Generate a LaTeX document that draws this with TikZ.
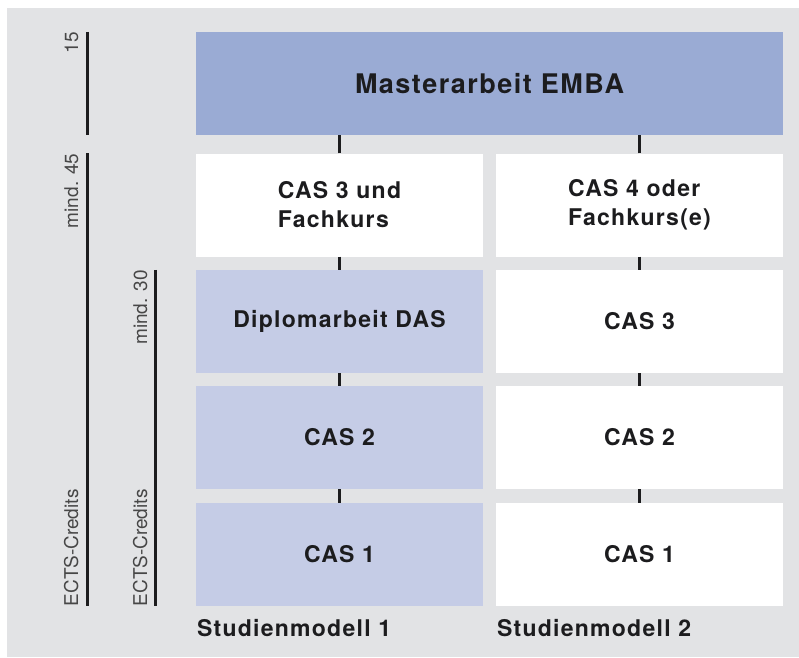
\documentclass[tikz,border=0pt]{standalone}
\usepackage{fontspec}
\usetikzlibrary{calc}
\newfontfamily\hfont[LetterSpace=5.5]{TeX Gyre Heros}
\newfontfamily\lfont{TeX Gyre Heros}
\definecolor{bggray}{HTML}{E2E3E5}
\definecolor{emba}{HTML}{9AABD4}
\definecolor{das}{HTML}{C5CCE6}
\definecolor{ink}{HTML}{1C1C1E}
\tikzstyle{modul}=[rectangle,fill=white,minimum width=287pt,minimum height=103pt,inner sep=0pt,text=ink,align=left,font=\hfont\bfseries\fontsize{23}{29}\selectfont]
\tikzstyle{tick}=[line width=3pt,ink]
\tikzstyle{axis}=[line width=3pt,ink]
\tikzstyle{credits}=[rotate=90,inner sep=0pt,text=black!72,font=\lfont\fontsize{19}{22}\selectfont]

\begin{document}
\begin{tikzpicture}[x=1pt,y=-1pt]
\useasboundingbox (0, 0) rectangle (799, 657);
\fill[bggray] (7, 8) rectangle (799, 657);

\node[modul, fill=emba, minimum width=587pt, font=\hfont\bfseries\fontsize{27}{30}\selectfont] at (489.5, 83.5) (master) {Masterarbeit EMBA};
\node[modul] at (339.5, 205) (casf) {CAS 3 und\\Fachkurs};
\node[modul] at (639.5, 205) (casfe) {CAS 4 oder\\Fachkurs(e)};
\node[modul, fill=das] at (339.5, 321.5) (dipl) {Diplomarbeit DAS};
\node[modul] at (639.5, 321.5) (cas3) {CAS 3};
\node[modul, fill=das] at (339.5, 437.5) (casa2) {CAS 2};
\node[modul] at (639.5, 437.5) (casb2) {CAS 2};
\node[modul, fill=das] at (339.5, 554.5) (casa1) {CAS 1};
\node[modul] at (639.5, 554.5) (casb1) {CAS 1};

\node[modul, fill=none, minimum width=0pt, minimum height=0pt, anchor=base west] at ($(casa1.south west)+(1, 30)$) (sm1) {Studienmodell 1};
\node[modul, fill=none, minimum width=0pt, minimum height=0pt, anchor=base west] at ($(casb1.south west)+(1, 30)$) (sm2) {Studienmodell 2};

\draw[tick] (casf.north) -- (casf.north |- master.south);
\draw[tick] (casfe.north) -- (casfe.north |- master.south);
\draw[tick] (casf.south) -- (dipl.north);
\draw[tick] (casfe.south) -- (cas3.north);
\draw[tick] (dipl.south) -- (casa2.north);
\draw[tick] (cas3.south) -- (casb2.north);
\draw[tick] (casa2.south) -- (casa1.north);
\draw[tick] (casb2.south) -- (casb1.north);

\coordinate (ax1) at (87, 0);
\coordinate (ax2) at (155, 0);
\draw[axis] (master.north -| ax1) -- (master.south -| ax1);
\draw[axis] (casf.north -| ax1) -- (casa1.south -| ax1);
\draw[axis] (dipl.north -| ax2) -- (casa1.south -| ax2);

\node[credits, anchor=base east] at ($(master.north -| ax1)+(-9, 0)$) (c15) {15};
\node[credits, anchor=base east] at ($(casf.north -| ax1)+(-9, 0)$) (c45) {mind. 45};
\node[credits, anchor=base west] at ($(casa1.south -| ax1)+(-9, 0)$) (ects1) {ECTS-Credits};
\node[credits, anchor=base east] at ($(dipl.north -| ax2)+(-8, 0)$) (c30) {mind. 30};
\node[credits, anchor=base west] at ($(casa1.south -| ax2)+(-8, 0)$) (ects2) {ECTS-Credits};

\end{tikzpicture}
\end{document}
